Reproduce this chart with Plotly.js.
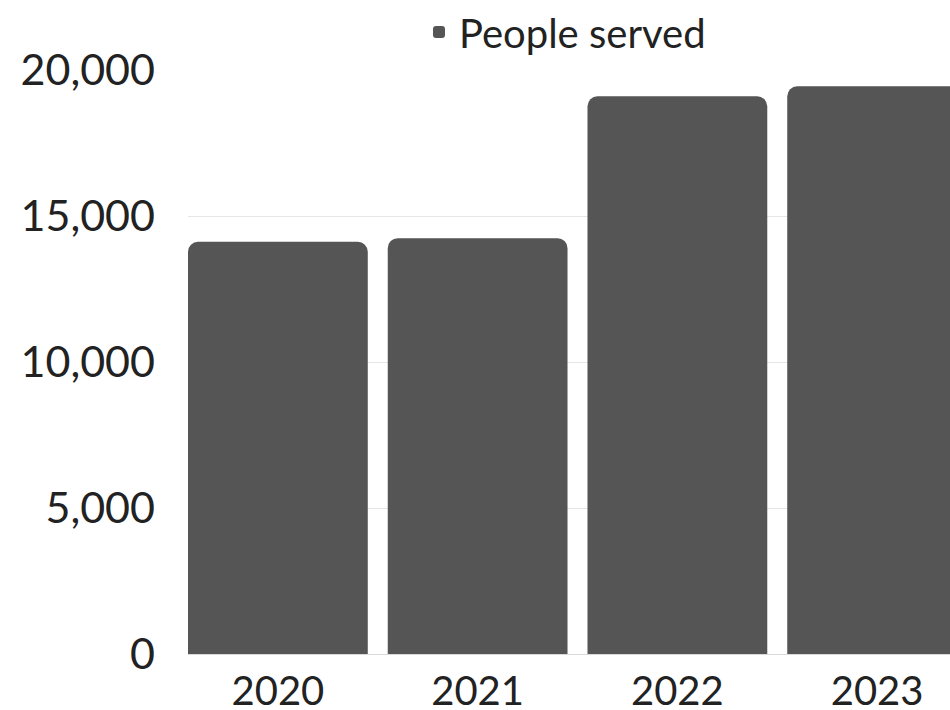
<!DOCTYPE html>
<html>
<head>
<meta charset="utf-8">
<script src="https://cdn.plot.ly/plotly-3.0.1.min.js"></script>
<style>
html,body{margin:0;padding:0;overflow:hidden;width:950px;height:710px;background:#fff;}
#chart{width:1000px;height:710px;}
</style>
</head>
<body>
<div id="chart"></div>
<script>
const years = ["2020", "2021", "2022", "2023"];
const peopleServed = [14120, 14240, 19100, 19440];
const seriesName = "People served";
const yTicks = [0, 5000, 10000, 15000, 20000];
const yTickLabels = ["0", "5,000", "10,000", "15,000", "20,000"];

const trace = {
  type: "bar",
  x: years,
  y: peopleServed,
  name: seriesName,
  marker: {color: "#555555", cornerradius: 10},
  hoverinfo: "x+y"
};

const layout = {
  width: 1000,
  height: 710,
  margin: {l: 187.5, r: 22.5, t: 70, b: 56, autoexpand: false},
  paper_bgcolor: "#ffffff",
  plot_bgcolor: "#ffffff",
  font: {family: "Lato, 'Open Sans', sans-serif", size: 40, color: "#222222"},
  bargap: 0.1,
  showlegend: true,
  legend: {
    orientation: "h",
    xref: "container", yref: "container",
    x: 0.565, xanchor: "center",
    y: 0.955, yanchor: "middle",
    font: {size: 40, color: "#222222"},
    itemsizing: "constant"
  },
  xaxis: {
    type: "category",
    range: [-0.45, 3.5],
    showgrid: false,
    showline: true,
    linecolor: "#d9d9d9",
    linewidth: 1,
    ticks: "",
    ticklabelstandoff: 2,
    tickfont: {size: 40, color: "#222222"}
  },
  yaxis: {
    range: [0, 20000],
    tickvals: yTicks,
    ticktext: yTickLabels,
    showgrid: true,
    gridcolor: "#e6e6e6",
    gridwidth: 1,
    zeroline: false,
    showline: false,
    ticks: "",
    ticklabelstandoff: 32,
    tickfont: {size: 43, color: "#222222"}
  }
};

Plotly.newPlot("chart", [trace], layout, {displayModeBar: false, staticPlot: true});
</script>
</body>
</html>
